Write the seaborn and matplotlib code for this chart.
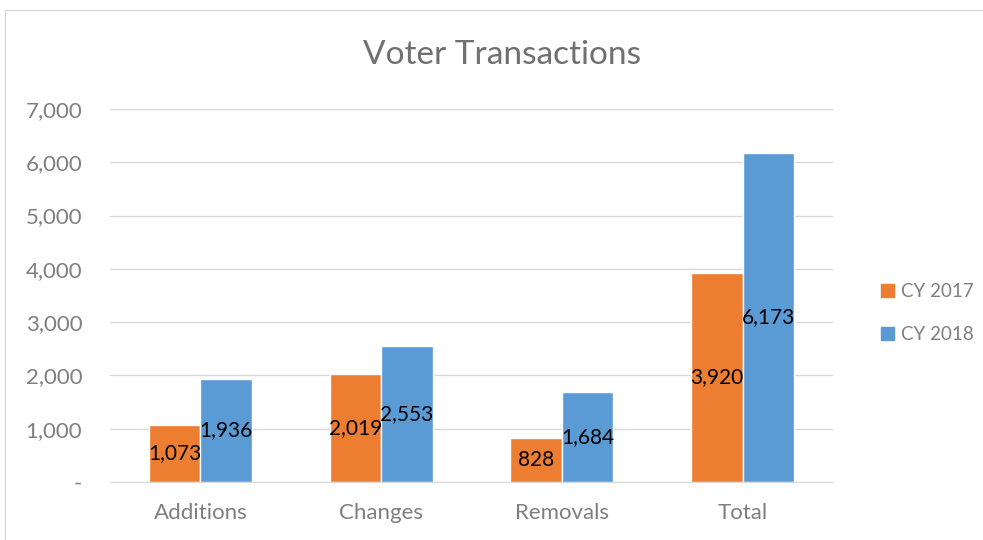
import numpy as np
import pandas as pd
import matplotlib
matplotlib.use("Agg")
import matplotlib.pyplot as plt
from matplotlib.patches import Rectangle
import seaborn as sns

# ── Data ──────────────────────────────────────────────────────────────────────
categories = ["Additions", "Changes", "Removals", "Total"]
cy2017 = [1073, 2019, 828, 3920]
cy2018 = [1936, 2553, 1684, 6173]
series = ["CY 2017", "CY 2018"]
yticks = [0, 1000, 2000, 3000, 4000, 5000, 6000, 7000]
ytick_labels = ["-", "1,000", "2,000", "3,000", "4,000", "5,000", "6,000", "7,000"]

df = pd.DataFrame({
    "category": categories * 2,
    "series": [series[0]] * 4 + [series[1]] * 4,
    "value": cy2017 + cy2018,
})

# ── Style ─────────────────────────────────────────────────────────────────────
sns.set_style("white")
plt.rcParams["font.family"] = ["Lato", "DejaVu Sans"]
GRAY = "#7f7f7f"
colors = {"CY 2017": "#ED7D31", "CY 2018": "#5B9BD5"}

fig = plt.figure(figsize=(9.83, 5.40), dpi=100)
ax = fig.add_axes([110 / 983, 1 - 482 / 540, 723 / 983, 373 / 540])

sns.barplot(data=df, x="category", y="value", hue="series", order=categories,
            hue_order=series, palette=colors, width=0.57, saturation=1,
            ax=ax, legend=False)

# data labels centred in bars
for cont in ax.containers:
    ax.bar_label(cont, labels=[f"{v:,.0f}" for v in cont.datavalues],
                 label_type="center", fontsize=15, color="black")

ax.set_ylim(0, 7000)
ax.set_yticks(yticks)
ax.set_yticklabels(ytick_labels)
ax.set_xlabel("")
ax.set_ylabel("")
ax.yaxis.grid(True, color="#d9d9d9", linewidth=1)
ax.set_axisbelow(True)
for s in ["top", "right", "left"]:
    ax.spines[s].set_visible(False)
ax.spines["bottom"].set_color("#d9d9d9")
ax.tick_params(axis="y", length=0, labelsize=16, colors=GRAY, pad=20)
ax.tick_params(axis="x", length=0, labelsize=16, colors=GRAY, pad=15)

fig.text(502 / 983, 1 - 55 / 540, "Voter Transactions", ha="center", va="center",
         fontsize=24, color="#707070")

# legend
handles = [Rectangle((0, 0), 1, 1, color=colors[s]) for s in series]
fig.legend(handles, series, loc="center left", bbox_to_anchor=(866 / 983, 1 - 313 / 540),
           frameon=False, fontsize=13.5, labelcolor=GRAY, handlelength=0.7,
           handleheight=0.7, handletextpad=0.35, labelspacing=1.35,
           borderpad=0.3)

# chart border
fig.patches.append(Rectangle((5 / 983, -0.01), 1.0, 1 - 10 / 540 + 0.01,
                             transform=fig.transFigure, fill=False,
                             edgecolor="#d9d9d9", linewidth=1))

fig.savefig("out.png", dpi=100)
